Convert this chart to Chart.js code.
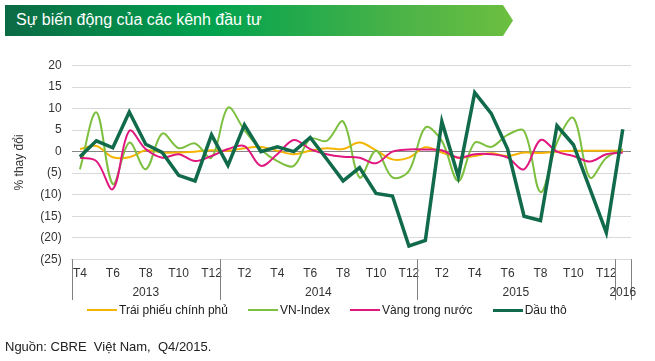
<!DOCTYPE html>
<html>
<head>
<meta charset="utf-8">
<script src="https://cdn.jsdelivr.net/npm/chart.js@4.4.1/dist/chart.umd.min.js"></script>
<style>
    body { margin: 0; background: #fff; font-family: 'Liberation Sans', Arial, sans-serif; }
    .page { position: relative; width: 655px; height: 361px; overflow: hidden; }
    .banner {
        position: absolute; left: 5px; top: 5px; width: 508px; height: 31px;
        background: linear-gradient(90deg, #0b6a44 0%, #00a24f 40%, #4fb447 80%, #6cbf3f 100%);
        clip-path: polygon(0 0, 498px 0, 508px 50%, 498px 100%, 0 100%);
    }
    .banner span { position: absolute; left: 11px; top: 6px; color: #fff; font-size: 16px; white-space: nowrap; }
    canvas { position: absolute; left: 0; top: 0; }
    .legend { position: absolute; top: 303px; left: 87px; display: flex; font-size: 12px; color: #222; white-space: nowrap; }
    .legend div { display: flex; align-items: center; margin-right: 20px; }
    .legend i { display: inline-block; width: 30px; height: 2px; margin-right: 2px; }
    .source { position: absolute; left: 5px; top: 339px; font-size: 13px; color: #222; white-space: nowrap; }
</style>
</head>
<body>
<div class="page">
    <canvas id="chart" width="655" height="361"></canvas>
    <div class="banner"><span>Sự biến động của các kênh đầu tư</span></div>
    <div class="legend" id="legend"></div>
    <div class="source">Nguồn: CBRE&nbsp; Việt Nam,&nbsp; Q4/2015.</div>
</div>
<script>
// months from T4/2013 to T1/2016
const months = ['T4', 'T5', 'T6', 'T7', 'T8', 'T9', 'T10', 'T11', 'T12',
    'T1', 'T2', 'T3', 'T4', 'T5', 'T6', 'T7', 'T8', 'T9', 'T10', 'T11', 'T12',
    'T1', 'T2', 'T3', 'T4', 'T5', 'T6', 'T7', 'T8', 'T9', 'T10', 'T11', 'T12',
    'T1'];
const years = ['2013', '2014', '2015', '2016'];
const monthsPerYear = [9, 12, 12, 1];

const bonds = [0.6, 1.3, -1.3, -1.3, 0.3, -0.2, -0.2, 0, 0.3, 0.2, 0.8, 1.1,
    0.2, -0.6, 0.2, 0.8, 0.6, 2.1, 0.3, -1.8, -1.4, 1.0, -0.2, -1.4,
    -1.0, -0.4, -1.0, -0.2, -0.3, 0, 0.2, 0.2, 0.2, 0.2];
const vnIndex = [-4.1, 9.1, -7.5, 2.1, -4.1, 4.2, 0.8, 1.9, -1.4, 10.2, 5.0, 0.5,
    -2.2, -3.3, 3.0, 2.5, 7.0, -6.0, 0.2, -6.0, -4.5, 5.6, 2.5, -6.8,
    2.1, 1.1, 3.9, 4.8, -9.4, 2.1, 7.8, -6.0, -1.4, 0.6];
const gold = [-1.4, -2.2, -8.7, 4.8, 0.6, -1.4, -0.6, -2.2, -1.0, 0.6, 1.3, -3.3,
    -0.6, 2.7, 0.6, -0.6, -1.2, -1.4, -2.7, 0, 0.5, 0.5, 0.3, -1.4,
    -0.6, -0.6, -1.4, -4.1, 2.7, 0, -1.0, -2.3, -0.6, -0.2];
const oil = [-1.2, 2.5, 0.9, 9.2, 1.7, -0.2, -5.5, -6.8, 3.9, -3.2, 6.2, 0,
    1.1, 0, 3.3, -1.7, -6.8, -3.7, -9.7, -10.3, -21.9, -20.6, 7.0, -5.8,
    13.7, 8.9, 0.6, -15, -16, 6, 1.6, -8.6, -18.8, 5.2];

const seriesNames = ['Trái phiếu chính phủ', 'VN-Index', 'Vàng trong nước', 'Dầu thô'];
const seriesColors = ['#f5b400', '#7dbf3f', '#e0177f', '#116b4b'];

const textColor = '#333333';

// year row + group separators under the month labels
const yearAxis = {
    id: 'yearAxis',
    afterDraw(chart) {
        const { ctx, chartArea } = chart;
        const x = chart.scales.x;
        const half = (x.getPixelForValue(1) - x.getPixelForValue(0)) / 2;
        ctx.save();
        ctx.strokeStyle = '#808080';
        ctx.lineWidth = 1;
        ctx.fillStyle = textColor;
        ctx.font = '12px "Liberation Sans", Arial, sans-serif';
        ctx.textAlign = 'center';
        ctx.textBaseline = 'middle';
        let start = 0;
        years.forEach((year, i) => {
            const end = start + monthsPerYear[i] - 1;
            const left = x.getPixelForValue(start) - half;
            const right = x.getPixelForValue(end) + half;
            ctx.beginPath();
            ctx.moveTo(Math.round(left) + 0.5, chartArea.bottom);
            ctx.lineTo(Math.round(left) + 0.5, 300);
            if (i === years.length - 1) {
                ctx.moveTo(Math.round(right) + 0.5, chartArea.bottom);
                ctx.lineTo(Math.round(right) + 0.5, 300);
            }
            ctx.stroke();
            ctx.fillText(year, (left + right) / 2, 293);
            start = end + 1;
        });
        ctx.restore();
    }
};

const datasets = [bonds, vnIndex, gold, oil].map((values, i) => ({
    label: seriesNames[i],
    data: values,
    borderColor: seriesColors[i],
    backgroundColor: seriesColors[i],
    borderWidth: i === 3 ? 3.5 : 2,
    tension: i === 3 ? 0 : 0.35,
    pointRadius: 0,
    fill: false,
    order: 4 - i
}));

new Chart(document.getElementById('chart'), {
    type: 'line',
    data: { labels: months, datasets: datasets },
    options: {
        responsive: false,
        animation: false,
        layout: { padding: { top: 65.5, right: 24, bottom: 0, left: 0 } },
        plugins: {
            legend: { display: false },
            tooltip: { enabled: false }
        },
        scales: {
            x: {
                offset: true,
                grid: { display: false },
                border: { color: '#d9d9d9' },
                ticks: {
                    autoSkip: false,
                    maxRotation: 0,
                    padding: -1,
                    color: textColor,
                    font: { size: 12, family: '"Liberation Sans", Arial, sans-serif' },
                    callback: (value, index) => index % 2 === 0 ? months[index] : ''
                },
                afterFit: (scale) => { scale.height = 101.7; }
            },
            y: {
                min: -25,
                max: 20,
                border: { display: false },
                grid: {
                    drawTicks: false,
                    color: (c) => c.tick && c.tick.value === 0 ? '#868686' : '#d9d9d9'
                },
                ticks: {
                    stepSize: 5,
                    padding: 10,
                    color: textColor,
                    font: { size: 12, family: '"Liberation Sans", Arial, sans-serif' },
                    callback: (value) => value < 0 ? '(' + (-value) + ')' : value
                },
                title: {
                    display: true,
                    text: '% thay đổi',
                    color: textColor,
                    padding: { top: 12, bottom: 0 },
                    font: { size: 12, family: '"Liberation Sans", Arial, sans-serif' }
                },
                afterFit: (scale) => { scale.width = 71.7; }
            }
        }
    },
    plugins: [yearAxis]
});

// legend
const legend = document.getElementById('legend');
seriesNames.forEach((name, i) => {
    const item = document.createElement('div');
    const swatch = document.createElement('i');
    swatch.style.background = seriesColors[i];
    if (i === 3) swatch.style.height = '3px';
    item.appendChild(swatch);
    item.appendChild(document.createTextNode(name));
    legend.appendChild(item);
});
</script>
</body>
</html>
